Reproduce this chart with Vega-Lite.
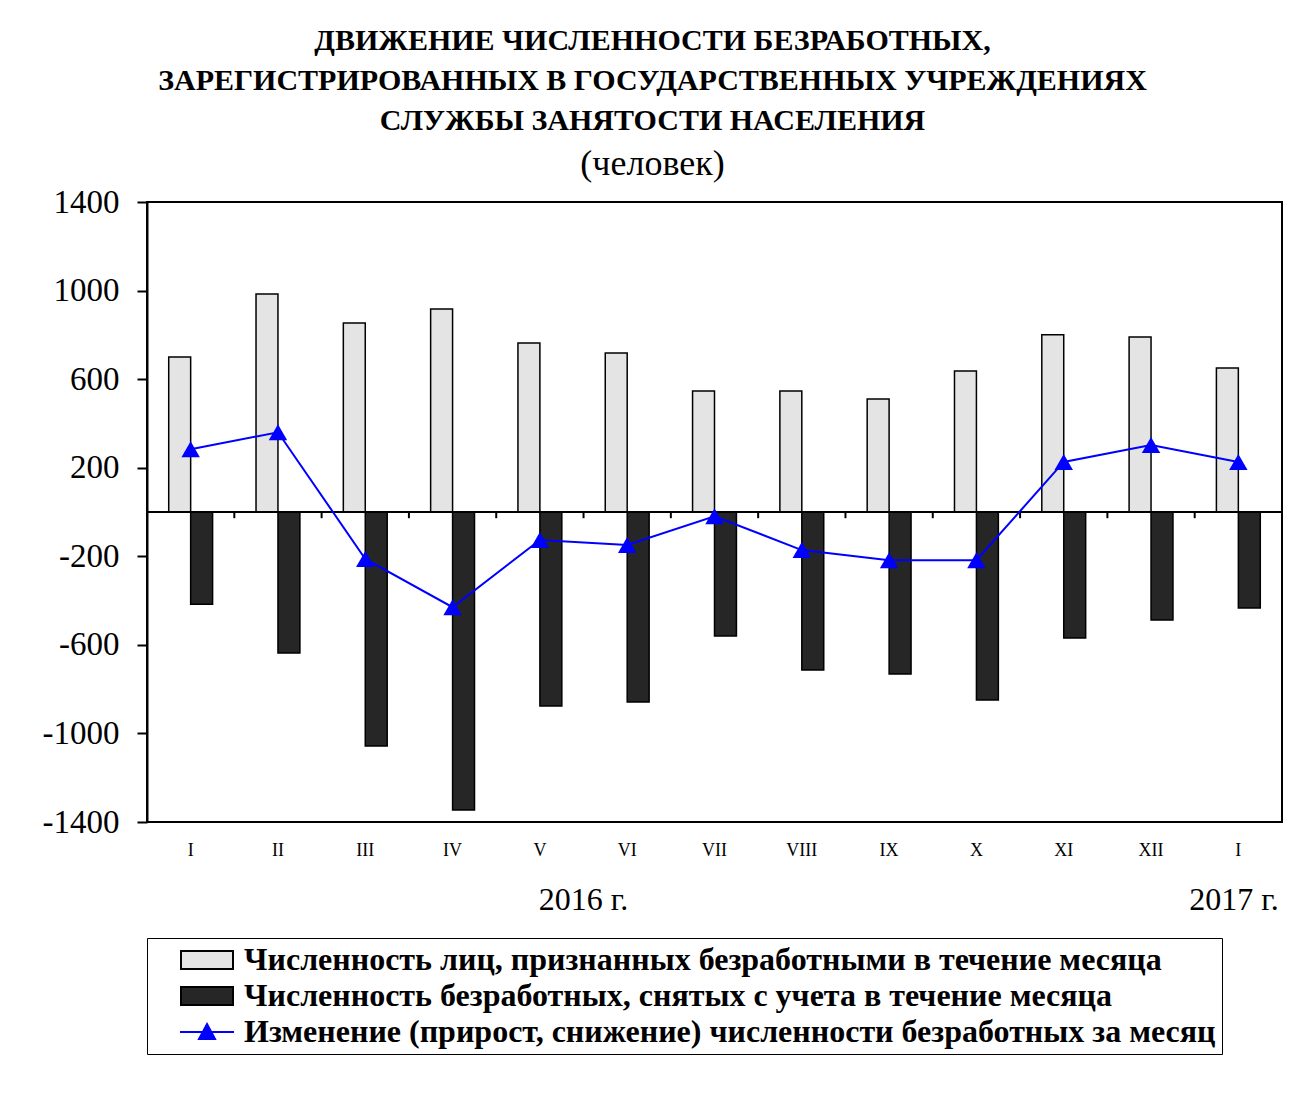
{
  "$schema": "https://vega.github.io/schema/vega-lite/v6.json",
  "width": 1135,
  "height": 620,
  "autosize": {"type": "none"},
  "padding": {"left": 147, "top": 202, "right": 8, "bottom": 273},
  "background": "white",
  "config": {
    "font": "Liberation Serif",
    "view": {"stroke": "black", "strokeWidth": 2},
    "axis": {"labelFont": "Liberation Serif", "labelColor": "black", "grid": false}
  },
  "title": {
    "text": ["ДВИЖЕНИЕ ЧИСЛЕННОСТИ БЕЗРАБОТНЫХ,", "ЗАРЕГИСТРИРОВАННЫХ В ГОСУДАРСТВЕННЫХ УЧРЕЖДЕНИЯХ", "СЛУЖБЫ ЗАНЯТОСТИ НАСЕЛЕНИЯ"],
    "subtitle": "(человек)",
    "font": "Liberation Serif",
    "fontSize": 30,
    "fontWeight": "bold",
    "lineHeight": 40,
    "color": "black",
    "subtitleFont": "Liberation Serif",
    "subtitleFontSize": 36,
    "subtitleFontWeight": "normal",
    "subtitleColor": "black",
    "subtitlePadding": 11,
    "anchor": "middle",
    "frame": "group",
    "dx": -62,
    "offset": 4
  },
  "data": {
    "values": [
      {"period": "I 2016", "series": "a", "value": 700},
      {"period": "II 2016", "series": "a", "value": 985},
      {"period": "III 2016", "series": "a", "value": 854},
      {"period": "IV 2016", "series": "a", "value": 917},
      {"period": "V 2016", "series": "a", "value": 763},
      {"period": "VI 2016", "series": "a", "value": 718},
      {"period": "VII 2016", "series": "a", "value": 547},
      {"period": "VIII 2016", "series": "a", "value": 547},
      {"period": "IX 2016", "series": "a", "value": 510},
      {"period": "X 2016", "series": "a", "value": 637},
      {"period": "XI 2016", "series": "a", "value": 800},
      {"period": "XII 2016", "series": "a", "value": 790},
      {"period": "I 2017", "series": "a", "value": 650},
      {"period": "I 2016", "series": "b", "value": -417},
      {"period": "II 2016", "series": "b", "value": -637},
      {"period": "III 2016", "series": "b", "value": -1057},
      {"period": "IV 2016", "series": "b", "value": -1346},
      {"period": "V 2016", "series": "b", "value": -876},
      {"period": "VI 2016", "series": "b", "value": -858},
      {"period": "VII 2016", "series": "b", "value": -560},
      {"period": "VIII 2016", "series": "b", "value": -714},
      {"period": "IX 2016", "series": "b", "value": -732},
      {"period": "X 2016", "series": "b", "value": -849},
      {"period": "XI 2016", "series": "b", "value": -569},
      {"period": "XII 2016", "series": "b", "value": -488},
      {"period": "I 2017", "series": "b", "value": -434},
      {"period": "I 2016", "series": "c", "value": 283},
      {"period": "II 2016", "series": "c", "value": 360},
      {"period": "III 2016", "series": "c", "value": -212},
      {"period": "IV 2016", "series": "c", "value": -430},
      {"period": "V 2016", "series": "c", "value": -126},
      {"period": "VI 2016", "series": "c", "value": -149},
      {"period": "VII 2016", "series": "c", "value": -19},
      {"period": "VIII 2016", "series": "c", "value": -172},
      {"period": "IX 2016", "series": "c", "value": -218},
      {"period": "X 2016", "series": "c", "value": -218},
      {"period": "XI 2016", "series": "c", "value": 226},
      {"period": "XII 2016", "series": "c", "value": 303},
      {"period": "I 2017", "series": "c", "value": 226}
    ]
  },
  "layer": [
    {
      "transform": [{"filter": "datum.series !== 'c'"}],
      "mark": {"type": "bar", "stroke": "black", "strokeWidth": 1.5},
      "encoding": {
        "x": {
          "field": "period",
          "type": "nominal",
          "scale": {
            "domain": ["I 2016", "II 2016", "III 2016", "IV 2016", "V 2016", "VI 2016", "VII 2016", "VIII 2016", "IX 2016", "X 2016", "XI 2016", "XII 2016", "I 2017"],
            "paddingInner": 0,
            "paddingOuter": 0
          },
          "axis": {
            "title": null,
            "domain": false,
            "ticks": false,
            "labelAngle": 0,
            "labelFontSize": 18,
            "labelPadding": 19,
            "labelColor": "black",
            "labelExpr": "split(datum.label, ' ')[0]"
          }
        },
        "xOffset": {"field": "series", "type": "nominal", "scale": {"paddingInner": 0, "paddingOuter": 0.99}},
        "y": {
          "field": "value",
          "type": "quantitative",
          "scale": {"domain": [-1400, 1400], "nice": false, "zero": false},
          "axis": {
            "title": null,
            "values": [-1400, -1000, -600, -200, 200, 600, 1000, 1400],
            "labelExpr": "datum.value < 0 ? '-' + abs(datum.value) : '' + datum.value",
            "labelFontSize": 33,
            "labelPadding": 18,
            "labelColor": "black",
            "tickSize": 10,
            "tickWidth": 2,
            "tickColor": "black",
            "domainColor": "black",
            "domainWidth": 2,
            "grid": false
          }
        },
        "fill": {
          "field": "series",
          "type": "nominal",
          "scale": {"domain": ["a", "b"], "range": ["#e4e4e4", "#262626"]},
          "legend": null
        }
      }
    },
    {
      "mark": {"type": "rule", "color": "black", "strokeWidth": 2},
      "encoding": {"y": {"datum": 0}}
    },
    {
      "transform": [{"filter": "datum.series === 'c' && datum.period !== 'I 2016'"}],
      "mark": {"type": "rule", "color": "black", "strokeWidth": 2},
      "encoding": {
        "x": {"field": "period", "type": "nominal", "bandPosition": 0},
        "y": {"datum": 0},
        "y2": {"datum": -28}
      }
    },
    {
      "transform": [{"filter": "datum.series === 'c'"}],
      "mark": {"type": "line", "strokeWidth": 2, "color": "#0000ff"},
      "encoding": {
        "x": {"field": "period", "type": "nominal"},
        "y": {"field": "value", "type": "quantitative"}
      }
    },
    {
      "transform": [{"filter": "datum.series === 'c'"}],
      "mark": {"type": "point", "shape": "triangle-up", "filled": true, "size": 340, "opacity": 1},
      "encoding": {
        "x": {"field": "period", "type": "nominal"},
        "y": {"field": "value", "type": "quantitative"},
        "color": {
          "field": "series",
          "type": "nominal",
          "scale": {"domain": ["a", "b", "c"], "range": ["#e4e4e4", "#262626", "#0000ff"]},
          "legend": {
            "orient": "none",
            "legendX": 0,
            "legendY": 736,
            "title": null,
            "direction": "vertical",
            "strokeColor": "black",
            "padding": 6,
            "symbolOffset": 38,
            "symbolSize": 400,
            "symbolStrokeWidth": 2,
            "symbolType": {"expr": "datum.value === 'c' ? 'M-2.7,0H2.7M0,-0.8L0.8,0.7L-0.8,0.7Z' : 'M-2.6,-0.9H2.6V0.9H-2.6Z'"},
            "symbolStrokeColor": {"expr": "datum.value === 'c' ? '#0000ff' : 'black'"},
            "labelFont": "Liberation Serif",
            "labelFontSize": 32,
            "labelFontWeight": "bold",
            "labelColor": "black",
            "labelOffset": 21,
            "labelLimit": 0,
            "rowPadding": 4,
            "labelExpr": "datum.value === 'a' ? 'Численность лиц, признанных безработными в течение месяца' : datum.value === 'b' ? 'Численность безработных, снятых с учета в течение месяца' : 'Изменение (прирост, снижение) численности безработных за месяц'"
          }
        }
      }
    },
    {
      "data": {"values": [{"period": "V 2016", "label": "2016 г."}]},
      "mark": {"type": "text", "font": "Liberation Serif", "fontSize": 32, "color": "black", "baseline": "middle", "align": "center"},
      "encoding": {
        "x": {"field": "period", "type": "nominal", "bandPosition": 1},
        "y": {"datum": -1752},
        "text": {"field": "label"}
      }
    },
    {
      "data": {"values": [{"period": "I 2017", "label": "2017 г."}]},
      "mark": {"type": "text", "font": "Liberation Serif", "fontSize": 32, "color": "black", "baseline": "middle", "align": "center"},
      "encoding": {
        "x": {"field": "period", "type": "nominal", "bandPosition": 0.45},
        "y": {"datum": -1752},
        "text": {"field": "label"}
      }
    }
  ]
}
